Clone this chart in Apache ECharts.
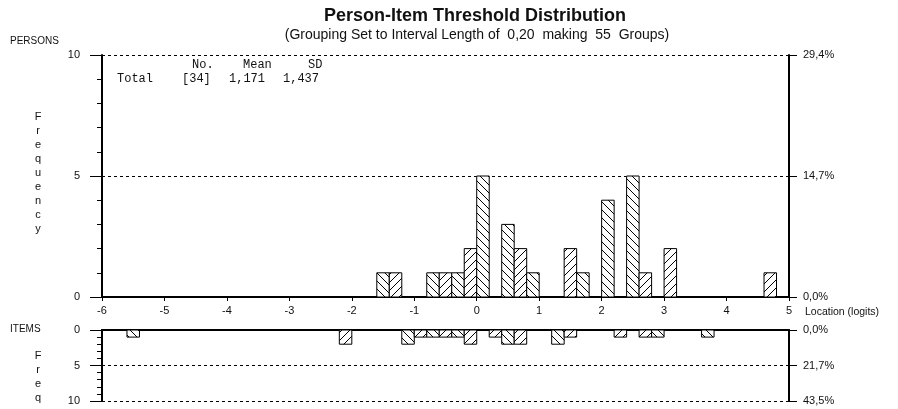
<!DOCTYPE html>
<html>
<head>
<meta charset="utf-8">
<script src="https://cdn.jsdelivr.net/npm/echarts@6/dist/echarts.min.js"></script>
<style>html,body{margin:0;padding:0;background:#fff;}#c{width:898px;height:409px;}</style>
</head>
<body>
<div id="c"></div>
<script>
// ---- data ----
const BIN = 0.2;
const X_MIN = -6, X_MAX = 5;
const xTicks = [-6, -5, -4, -3, -2, -1, 0, 1, 2, 3, 4, 5];
const personBins = [-1.6, -1.4, -0.8, -0.6, -0.4, -0.2, 0.0, 0.4, 0.6, 0.8, 1.4, 1.6, 2.0, 2.4, 2.6, 3.0, 4.6];
const personCounts = [1, 1, 1, 1, 1, 2, 5, 3, 2, 1, 2, 1, 4, 5, 1, 2, 1];
const itemBins = [-5.6, -2.2, -1.2, -1.0, -0.8, -0.6, -0.4, -0.2, 0.2, 0.4, 0.6, 1.2, 1.4, 2.2, 2.6, 2.8, 3.6];
const itemCounts = [1, 2, 2, 1, 1, 1, 1, 2, 1, 2, 2, 2, 1, 1, 1, 1, 1];
const statsHeader = ['No.', 'Mean', 'SD'];
const statsRow = ['Total', '[34]', '1,171', '1,437'];

const personTotal = personCounts.reduce((a, b) => a + b, 0);
const itemTotal = itemCounts.reduce((a, b) => a + b, 0);

function makeHatch(back) {
  const s = 8;
  const c = document.createElement('canvas');
  c.width = s; c.height = s;
  const g = c.getContext('2d');
  g.fillStyle = '#fff'; g.fillRect(0, 0, s, s);
  g.strokeStyle = '#000'; g.lineWidth = 1;
  g.beginPath();
  if (back) {
    g.moveTo(-1, -1); g.lineTo(s + 1, s + 1);
    g.moveTo(-1, s - 1); g.lineTo(1, s + 1);
    g.moveTo(s - 1, -1); g.lineTo(s + 1, 1);
  } else {
    g.moveTo(-1, s + 1); g.lineTo(s + 1, -1);
    g.moveTo(-1, 1); g.lineTo(1, -1);
    g.moveTo(s - 1, s + 1); g.lineTo(s + 1, s - 1);
  }
  g.stroke();
  return c;
}
const hatchBack = { image: makeHatch(true), repeat: 'repeat' };
const hatchFwd = { image: makeHatch(false), repeat: 'repeat' };

function renderBin(params, api) {
  const x0 = api.value(0), n = api.value(1);
  const a = api.coord([x0, 0]);
  const b = api.coord([x0 + BIN, n]);
  const idx = Math.round((x0 - X_MIN) / BIN);
  return {
    type: 'rect',
    shape: { x: a[0], y: Math.min(a[1], b[1]), width: b[0] - a[0], height: Math.abs(b[1] - a[1]) },
    style: { fill: idx % 2 === 0 ? hatchBack : hatchFwd, stroke: '#000', lineWidth: 1 }
  };
}

function pct(total) {
  return v => (v / total * 100).toFixed(1).replace('.', ',') + '%';
}

const font = 'Liberation Sans, Arial, sans-serif';
const mono = 'Liberation Mono, Courier New, monospace';
const txt = '#111';

function leftAxis(gridIndex, inverse) {
  return {
    type: 'value', gridIndex, min: 0, max: 10, interval: 5, inverse,
    axisLine: { show: true, onZero: false, lineStyle: { color: '#000', width: 2 } },
    axisTick: { show: true, length: 12, lineStyle: { color: '#000', width: 1 } },
    minorTick: { show: true, splitNumber: 5, length: 5, lineStyle: { color: '#000', width: 1 } },
    axisLabel: { margin: 22, color: txt, fontFamily: font, fontSize: 11 },
    splitLine: { show: true, lineStyle: { color: '#000', type: [3, 3], width: 1 } }
  };
}
function rightAxis(gridIndex, inverse, total) {
  return {
    type: 'value', gridIndex, min: 0, max: 10, interval: 5, inverse, position: 'right',
    axisLine: { show: true, onZero: false, lineStyle: { color: '#000', width: 2 } },
    axisTick: { show: true, length: 8, lineStyle: { color: '#000', width: 1 } },
    axisLabel: { margin: 14, color: txt, fontFamily: font, fontSize: 11, formatter: pct(total) },
    splitLine: { show: false }
  };
}

const graphics = [];
function t(x, y, text, opts) {
  graphics.push({ type: 'text', x, y, style: Object.assign({ text, fill: txt, font: '11px ' + font, textVerticalAlign: 'middle' }, opts || {}) });
}
t(475, 16, 'Person-Item Threshold Distribution', { font: 'bold 18px ' + font, textAlign: 'center' });
t(477, 35, '(Grouping Set to Interval Length of  0,20  making  55  Groups)', { font: '14px ' + font, textAlign: 'center' });
t(10, 41, 'PERSONS', { font: '10px ' + font });
t(10, 329, 'ITEMS', { font: '10px ' + font });
'Frequency'.split('').forEach((ch, i) => t(38, 117 + i * 14, ch, { textAlign: 'center' }));
'Freq'.split('').forEach((ch, i) => t(38, 356 + i * 14, ch, { textAlign: 'center' }));
t(805, 312, 'Location (logits)', { font: '10.5px ' + font });
// stats box (monospace)
const hdrX = [192, 243, 308];
statsHeader.forEach((s, i) => t(hdrX[i], 65, s, { font: '12px ' + mono }));
const rowX = [117, 182, 229, 283];
statsRow.forEach((s, i) => t(rowX[i], 79, s, { font: '12px ' + mono }));

const option = {
  animation: false,
  backgroundColor: '#fff',
  grid: [
    { left: 102, right: 109, top: 55, height: 242 },
    { left: 102, right: 109, top: 330, height: 71 }
  ],
  xAxis: [
    {
      type: 'value', gridIndex: 0, min: X_MIN, max: X_MAX, interval: 1,
      axisLine: { show: true, onZero: false, lineStyle: { color: '#000', width: 2 } },
      axisTick: { show: true, length: 4, lineStyle: { color: '#000' } },
      axisLabel: { margin: 8, color: txt, fontFamily: font, fontSize: 11, formatter: v => xTicks.includes(v) ? String(v) : '' },
      splitLine: { show: false }
    },
    {
      type: 'value', gridIndex: 1, min: X_MIN, max: X_MAX, interval: 1, position: 'top',
      axisLine: { show: true, onZero: false, lineStyle: { color: '#000', width: 2 } },
      axisTick: { show: false }, axisLabel: { show: false }, splitLine: { show: false }
    }
  ],
  yAxis: [
    leftAxis(0, false),
    rightAxis(0, false, personTotal),
    leftAxis(1, true),
    rightAxis(1, true, itemTotal)
  ],
  series: [
    {
      type: 'custom', xAxisIndex: 0, yAxisIndex: 0, renderItem: renderBin,
      data: personBins.map((b, i) => [b, personCounts[i]]), z: 5
    },
    {
      type: 'custom', xAxisIndex: 1, yAxisIndex: 2, renderItem: renderBin,
      data: itemBins.map((b, i) => [b, itemCounts[i]]), z: 5
    }
  ],
  graphic: graphics
};

const chart = echarts.init(document.getElementById('c'), null, { renderer: 'canvas' });
chart.setOption(option);
</script>
</body>
</html>
